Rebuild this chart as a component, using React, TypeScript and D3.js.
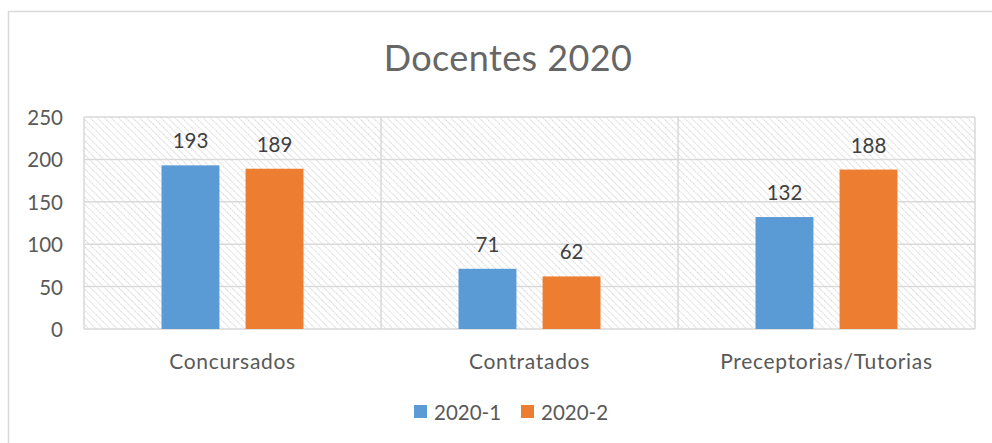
import React from "react";
import * as d3 from "d3";

const categories = ["Concursados", "Contratados", "Preceptorias/Tutorias"];
const seriesNames = ["2020-1", "2020-2"];
const values2020_1 = [193, 71, 132];
const values2020_2 = [189, 62, 188];
const yTicks = [0, 50, 100, 150, 200, 250];
const colors = ["#5b9bd5", "#ed7d31"];

const W = 992;
const H = 443;
const FONT = "Lato, 'Open Sans', sans-serif";

export default function App() {
  const left = 84, right = 975, top = 117, bottom = 329;
  const x = d3.scaleBand().domain(categories).range([left, right]).paddingInner(0).paddingOuter(0);
  const bw = x.bandwidth();
  const barW = bw * 0.195;
  const gap = bw * 0.088;
  const y = d3.scaleLinear().domain([0, 250]).range([bottom, top]);
  const series = [values2020_1, values2020_2];

  return (
    <svg width={W} height={H} style={{ position: "absolute", left: 0, top: 0, display: "block" }}>
      <defs>
        <pattern id="hatch" width="5" height="5" patternUnits="userSpaceOnUse" patternTransform="rotate(-45)">
          <rect width="5" height="5" fill="#ffffff" />
          <line x1="0" y1="0" x2="0" y2="5" stroke="#c9c9c9" strokeWidth="1.6" strokeDasharray="1.4,1" />
        </pattern>
      </defs>
      <rect x={0} y={0} width={W} height={H} fill="#fff" />
      <rect x={8.5} y={11.5} width={W + 10} height={H + 10} fill="#fff" stroke="#d9d9d9" strokeWidth={1.5} />
      <text x={508} y={57} textAnchor="middle" dominantBaseline="central" fontFamily={FONT} fontSize={36} letterSpacing={0.4} fill="#666666">
        Docentes 2020
      </text>
      <rect x={left} y={top} width={right - left} height={bottom - top} fill="url(#hatch)" />
      {yTicks.map((t) => (
        <line key={t} x1={left} x2={right} y1={y(t)} y2={y(t)} stroke="#d9d9d9" strokeWidth={1.5} />
      ))}
      {d3.range(categories.length + 1).map((i) => {
        const xx = i < categories.length ? x(categories[i])! : right;
        return <line key={i} x1={xx} x2={xx} y1={top} y2={bottom} stroke="#d9d9d9" strokeWidth={1.5} />;
      })}
      {yTicks.map((t) => (
        <text key={t} x={63} y={y(t)} textAnchor="end" dominantBaseline="central" fontFamily={FONT} fontSize={20.5} fill="#595959">
          {t}
        </text>
      ))}
      {categories.map((c, ci) => {
        const x0 = x(c)! + (bw - 2 * barW - gap) / 2;
        return (
          <g key={c}>
            {series.map((s, si) => {
              const bx = x0 + si * (barW + gap);
              return (
                <g key={si}>
                  <rect x={bx} y={y(s[ci])} width={barW} height={bottom - y(s[ci])} fill={colors[si]} />
                  <text x={bx + barW / 2} y={y(s[ci]) - 25} textAnchor="middle" dominantBaseline="central" fontFamily={FONT} fontSize={20.5} fill="#404040">
                    {s[ci]}
                  </text>
                </g>
              );
            })}
            <text x={x(c)! + bw / 2} y={360} textAnchor="middle" dominantBaseline="central" fontFamily={FONT} fontSize={21} letterSpacing={0.7} fill="#595959">
              {c}
            </text>
          </g>
        );
      })}
      {seriesNames.map((n, i) => {
        const lx = 414 + i * 107;
        return (
          <g key={n}>
            <rect x={lx} y={405} width={13} height={13} fill={colors[i]} />
            <text x={lx + 20} y={411.5} dominantBaseline="central" fontFamily={FONT} fontSize={20.5} fill="#595959">
              {n}
            </text>
          </g>
        );
      })}
    </svg>
  );
}
